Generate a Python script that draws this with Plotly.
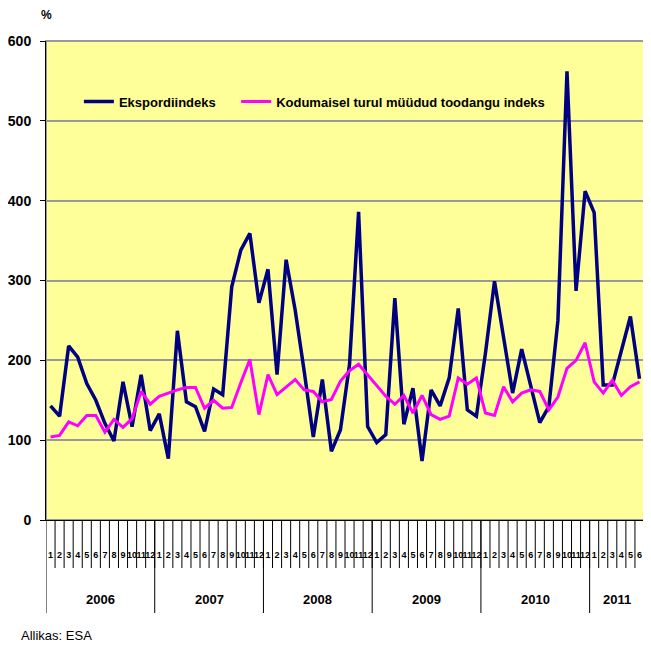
import plotly.graph_objects as go

years = ["2006", "2007", "2008", "2009", "2010", "2011"]
months_per_year = [12, 12, 12, 12, 12, 6]
month_labels = [str(m) for n in months_per_year for m in range(1, n + 1)]

eksport = [
    143, 130, 218, 204, 171, 150, 121, 99, 173, 117, 182, 112,
    133, 77, 237, 148, 142, 111, 164, 157, 292, 338, 359, 272,
    314, 182, 326, 263, 186, 104, 176, 86, 113, 195, 386, 117,
    97, 107, 278, 120, 165, 74, 163, 143, 178, 265, 138, 130,
    209, 299, 229, 159, 214, 168, 122, 142, 250, 562, 287, 412,
    385, 169, 169, 212, 255, 177,
]
kodumaine = [
    104, 106, 123, 118, 131, 131, 110, 126, 116, 127, 161, 145,
    155, 159, 163, 166, 166, 140, 150, 140, 141, 172, 201, 132,
    182, 157, 166, 176, 163, 161, 148, 151, 174, 187, 195, 182,
    168, 155, 145, 156, 134, 156, 132, 126, 130, 178, 170, 178,
    134, 131, 167, 148, 159, 163, 161, 138, 154, 190, 200, 222,
    173, 159, 175, 156, 167, 173,
]
y_ticks = [0, 100, 200, 300, 400, 500, 600]

idx = list(range(len(month_labels)))
FONT = "Liberation Sans, Arial, sans-serif"

# the page body has an 8px margin; figure is sized so the plot lands where the reference has it
OFF = 8
fig = go.Figure()
fig.add_trace(go.Scatter(x=idx, y=eksport, mode="lines", name="<b>Ekspordiindeks</b>",
                         line=dict(color="#000080", width=3.5), legend="legend"))
fig.add_trace(go.Scatter(x=idx, y=kodumaine, mode="lines",
                         name="<b>Kodumaisel turul müüdud toodangu indeks</b>",
                         line=dict(color="#FF00FF", width=3), legend="legend2"))

PH = 479.0
PW = 598.0
shapes = []
for i in range(len(idx) - 1):
    shapes.append(dict(type="line", xref="x", yref="paper", x0=i + 0.5, x1=i + 0.5,
                       y0=0, y1=-48 / PH, line=dict(color="black", width=1)))
b = -0.5
bounds = [b]
for n in months_per_year:
    b += n
    bounds.append(b)
for xb in bounds:
    shapes.append(dict(type="line", xref="x", yref="paper", x0=xb, x1=xb,
                       y0=0, y1=-93 / PH, line=dict(color="black", width=1)))
shapes.append(dict(type="rect", xref="paper", yref="paper", x0=0, x1=1, y0=0, y1=1,
                   line=dict(color="#999999", width=2), layer="below"))
# legend band (covers the 500 gridline like the reference legend box)
shapes.append(dict(type="rect", xref="paper", yref="paper", x0=(71 - 46) / PW, x1=(551 - 46) / PW,
                   y0=(520 - 126) / PH, y1=(520 - 84) / PH,
                   fillcolor="#FFFF99", line=dict(width=0), layer="between"))

annotations = []
start = 0
for yname, n in zip(years, months_per_year):
    annotations.append(dict(x=start + (n - 1) / 2, y=(520 - 599) / PH, xref="x", yref="paper",
                            yanchor="middle", text=f"<b>{yname}</b>", showarrow=False,
                            font=dict(family=FONT, size=13, color="black")))
    start += n
annotations.append(dict(x=(19 - 46) / PW, y=(520 - 635) / PH, xref="paper", yref="paper",
                        xanchor="left", yanchor="middle", text="Allikas: ESA", showarrow=False,
                        font=dict(family=FONT, size=13, color="black")))
annotations.append(dict(x=0, y=(520 - 15) / PH, xref="paper", yref="paper",
                        xanchor="center", yanchor="middle", text="<b>%</b>", showarrow=False,
                        font=dict(family=FONT, size=12, color="black")))

leg_common = dict(orientation="h", yanchor="top", y=0.905, xanchor="left",
                  bgcolor="rgba(0,0,0,0)", font=dict(family=FONT, size=13, color="black"))
fig.update_layout(
    width=651 - OFF, height=646 - OFF,
    margin=dict(l=46 - OFF, r=7, t=41 - OFF, b=126, autoexpand=False),
    paper_bgcolor="white", plot_bgcolor="#FFFF99",
    font=dict(family=FONT, color="black"),
    showlegend=True,
    legend=dict(x=0.055, **leg_common),
    legend2=dict(x=0.318, **leg_common),
    shapes=shapes, annotations=annotations,
)
fig.update_xaxes(range=[-0.5, len(idx) - 0.5], tickmode="array", tickvals=idx,
                 ticktext=[f"<b>{m}</b>" for m in month_labels],
                 tickfont=dict(family=FONT, size=9, color="black"),
                 ticks="outside", ticklen=26, tickcolor="rgba(0,0,0,0)",
                 showgrid=False, showline=True, linecolor="black", linewidth=1,
                 zeroline=False, tickangle=0, automargin=False)
fig.update_yaxes(range=[0, 600], tickmode="array", tickvals=y_ticks,
                 ticktext=[f"<b>{v}</b>" for v in y_ticks],
                 tickfont=dict(family=FONT, size=14, color="black"),
                 ticks="outside", ticklen=5, tickcolor="black",
                 showgrid=True, gridcolor="#999999", gridwidth=2,
                 showline=True, linecolor="black", linewidth=1, zeroline=False,
                 ticklabelstandoff=6, automargin=False)

fig.write_html("out.html")
